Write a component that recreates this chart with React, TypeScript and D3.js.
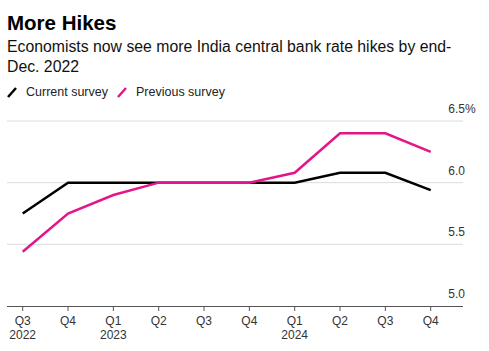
import React, { useEffect, useRef } from 'react';
import * as d3 from 'd3';

const quarters = ['Q3', 'Q4', 'Q1', 'Q2', 'Q3', 'Q4', 'Q1', 'Q2', 'Q3', 'Q4'];
const years = ['2022', '', '2023', '', '', '', '2024', '', '', ''];
const currentSurvey = [5.75, 6.0, 6.0, 6.0, 6.0, 6.0, 6.0, 6.08, 6.08, 5.94];
const previousSurvey = [5.44, 5.75, 5.9, 6.0, 6.0, 6.0, 6.08, 6.4, 6.4, 6.25];
const yTicks = [5.0, 5.5, 6.0, 6.5];

const PINK = '#e2168a';
const FONT = '"Liberation Sans", Arial, Helvetica, sans-serif';

const App = () => {
  const svgRef = useRef<SVGSVGElement>(null);

  useEffect(() => {
    const svg = d3.select(svgRef.current);
    svg.selectAll('*').remove();

    const width = 489;
    const height = 351;
    const left = 7;
    const right = 463;
    const top = 121;
    const bottom = 306;

    svg.attr('width', width).attr('height', height).style('font-family', FONT);

    // header
    svg.append('text').attr('x', 7).attr('y', 30)
      .style('font-size', '20.5px').style('font-weight', 'bold').attr('fill', '#000')
      .text('More Hikes');
    svg.append('text').attr('x', 7).attr('y', 52)
      .style('font-size', '15.8px').attr('fill', '#111')
      .text('Economists now see more India central bank rate hikes by end-');
    svg.append('text').attr('x', 7).attr('y', 72)
      .style('font-size', '15.8px').attr('fill', '#111')
      .text('Dec. 2022');

    // legend
    const legendItems = [
      { label: 'Current survey', color: '#000', x: 7 },
      { label: 'Previous survey', color: PINK, x: 117 }
    ];
    legendItems.forEach(item => {
      svg.append('line')
        .attr('x1', item.x + 1).attr('y1', 97).attr('x2', item.x + 9).attr('y2', 88)
        .attr('stroke', item.color).attr('stroke-width', 2.5);
      svg.append('text').attr('x', item.x + 19).attr('y', 96)
        .style('font-size', '12.5px').attr('fill', '#222')
        .text(item.label);
    });

    const x = d3.scalePoint<number>()
      .domain(d3.range(quarters.length))
      .range([22.7, 430.7]);

    const y = d3.scaleLinear()
      .domain([5.0, 6.5])
      .range([bottom, top]);

    // gridlines
    svg.append('g').selectAll('line')
      .data(yTicks.filter(t => t > 5.0))
      .enter().append('line')
      .attr('x1', left).attr('x2', right)
      .attr('y1', d => y(d)).attr('y2', d => y(d))
      .attr('stroke', '#dcdcdc').attr('stroke-width', 1);

    // y labels
    svg.append('g').selectAll('text')
      .data(yTicks)
      .enter().append('text')
      .attr('x', 465)
      .attr('y', d => y(d) - 8)
      .attr('text-anchor', 'end')
      .style('font-size', '12px').attr('fill', '#333')
      .text(d => d.toFixed(1));
    svg.append('text').attr('x', 465).attr('y', y(6.5) - 8)
      .style('font-size', '12px').attr('fill', '#333').text('%');

    // x axis
    svg.append('line')
      .attr('x1', left).attr('x2', right).attr('y1', bottom + 0.5).attr('y2', bottom + 0.5)
      .attr('stroke', '#555').attr('stroke-width', 1);
    const ticks = svg.append('g');
    quarters.forEach((q, i) => {
      const cx = x(i)!;
      ticks.append('line')
        .attr('x1', cx).attr('x2', cx).attr('y1', bottom).attr('y2', bottom + 5)
        .attr('stroke', '#555');
      ticks.append('text').attr('x', cx).attr('y', 325)
        .attr('text-anchor', 'middle').style('font-size', '12px').attr('fill', '#333')
        .text(q);
      if (years[i]) {
        ticks.append('text').attr('x', cx).attr('y', 339)
          .attr('text-anchor', 'middle').style('font-size', '12px').attr('fill', '#333')
          .text(years[i]);
      }
    });

    const line = d3.line<number>()
      .x((_, i) => x(i)!)
      .y(d => y(d));

    svg.append('path').datum(currentSurvey)
      .attr('d', line).attr('fill', 'none')
      .attr('stroke', '#000').attr('stroke-width', 2.5);

    svg.append('path').datum(previousSurvey)
      .attr('d', line).attr('fill', 'none')
      .attr('stroke', PINK).attr('stroke-width', 2.5);
  }, []);

  return (
    <div style={{ position: 'absolute', left: 0, top: 0 }}>
      <svg ref={svgRef}></svg>
    </div>
  );
};

export default App;
